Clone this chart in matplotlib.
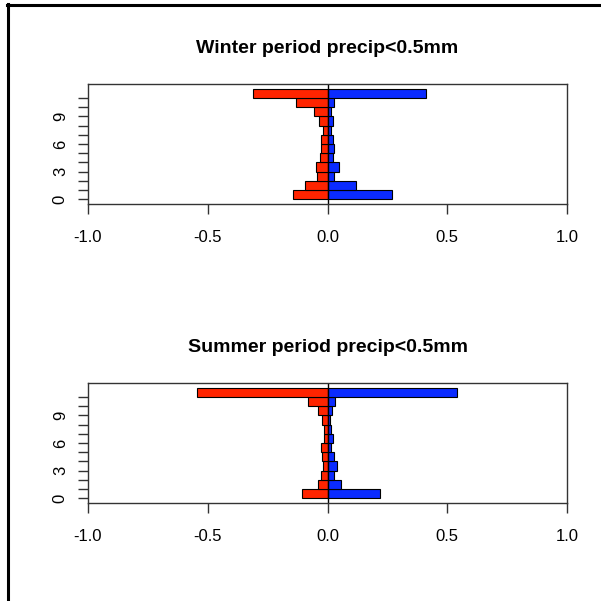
import numpy as np
import matplotlib
matplotlib.use('Agg')
import matplotlib.pyplot as plt

plt.rcParams['font.family'] = ['Liberation Sans', 'DejaVu Sans']

# bar index 0..11 (bottom to top)
winter_red = [-0.145, -0.092, -0.043, -0.049, -0.032, -0.026, -0.026, -0.019, -0.036, -0.056, -0.131, -0.310]
winter_blue = [0.269, 0.121, 0.027, 0.047, 0.023, 0.027, 0.023, 0.014, 0.023, 0.014, 0.027, 0.412]
summer_red = [-0.105, -0.040, -0.026, -0.017, -0.022, -0.026, -0.013, -0.013, -0.022, -0.040, -0.082, -0.543]
summer_blue = [0.221, 0.056, 0.027, 0.039, 0.027, 0.014, 0.023, 0.014, 0.010, 0.019, 0.032, 0.539]
titles = ['Winter period precip<0.5mm', 'Summer period precip<0.5mm']
xticks = [-1.0, -0.5, 0.0, 0.5, 1.0]
yticks = np.arange(0, 12)

red = '#FF2400'
blue = '#0B2BFF'
axcol = '#333333'

fig = plt.figure(figsize=(6.01, 6.01), dpi=100)
# outer frame (left and top lines)
fig.add_artist(plt.Line2D([7.5/601, 7.5/601], [0, 1-4/601], color='black', lw=2.2,
                          transform=fig.transFigure))
fig.add_artist(plt.Line2D([6.5/601, 1], [1-5/601, 1-5/601], color='black', lw=2.2,
                          transform=fig.transFigure))

boxes = [[88/601, 1-204/601, 479/601, 120/601],
         [88/601, 1-503/601, 479/601, 120/601]]
data = [(winter_red, winter_blue), (summer_red, summer_blue)]

for box, (r, b), t in zip(boxes, data, titles):
    ax = fig.add_axes(box)
    y = np.arange(len(r))
    ax.barh(y, r, height=1, align='edge', color=red, edgecolor='black', lw=0.8)
    ax.barh(y, b, height=1, align='edge', color=blue, edgecolor='black', lw=0.8)
    ax.axvline(0, color='black', lw=1)
    ax.set_xlim(-1, 1)
    ax.set_ylim(-0.5, 12.5)
    ax.set_xticks(xticks)
    ax.set_xticklabels(['%.1f' % v for v in xticks])
    ax.set_yticks(yticks)
    ax.set_yticklabels([str(v) if v % 3 == 0 else '' for v in yticks],
                       rotation=90, va='center')
    for s in ax.spines.values():
        s.set_color(axcol)
        s.set_linewidth(1)
    ax.tick_params(axis='both', direction='out', length=7, width=1, color=axcol,
                   labelsize=12, labelcolor='black')
    ax.tick_params(axis='x', pad=12)
    ax.tick_params(axis='y', pad=7.5)
    ax.set_title(t, fontsize=14, fontweight='bold', pad=22.5)

plt.savefig('out.png', dpi=100)
